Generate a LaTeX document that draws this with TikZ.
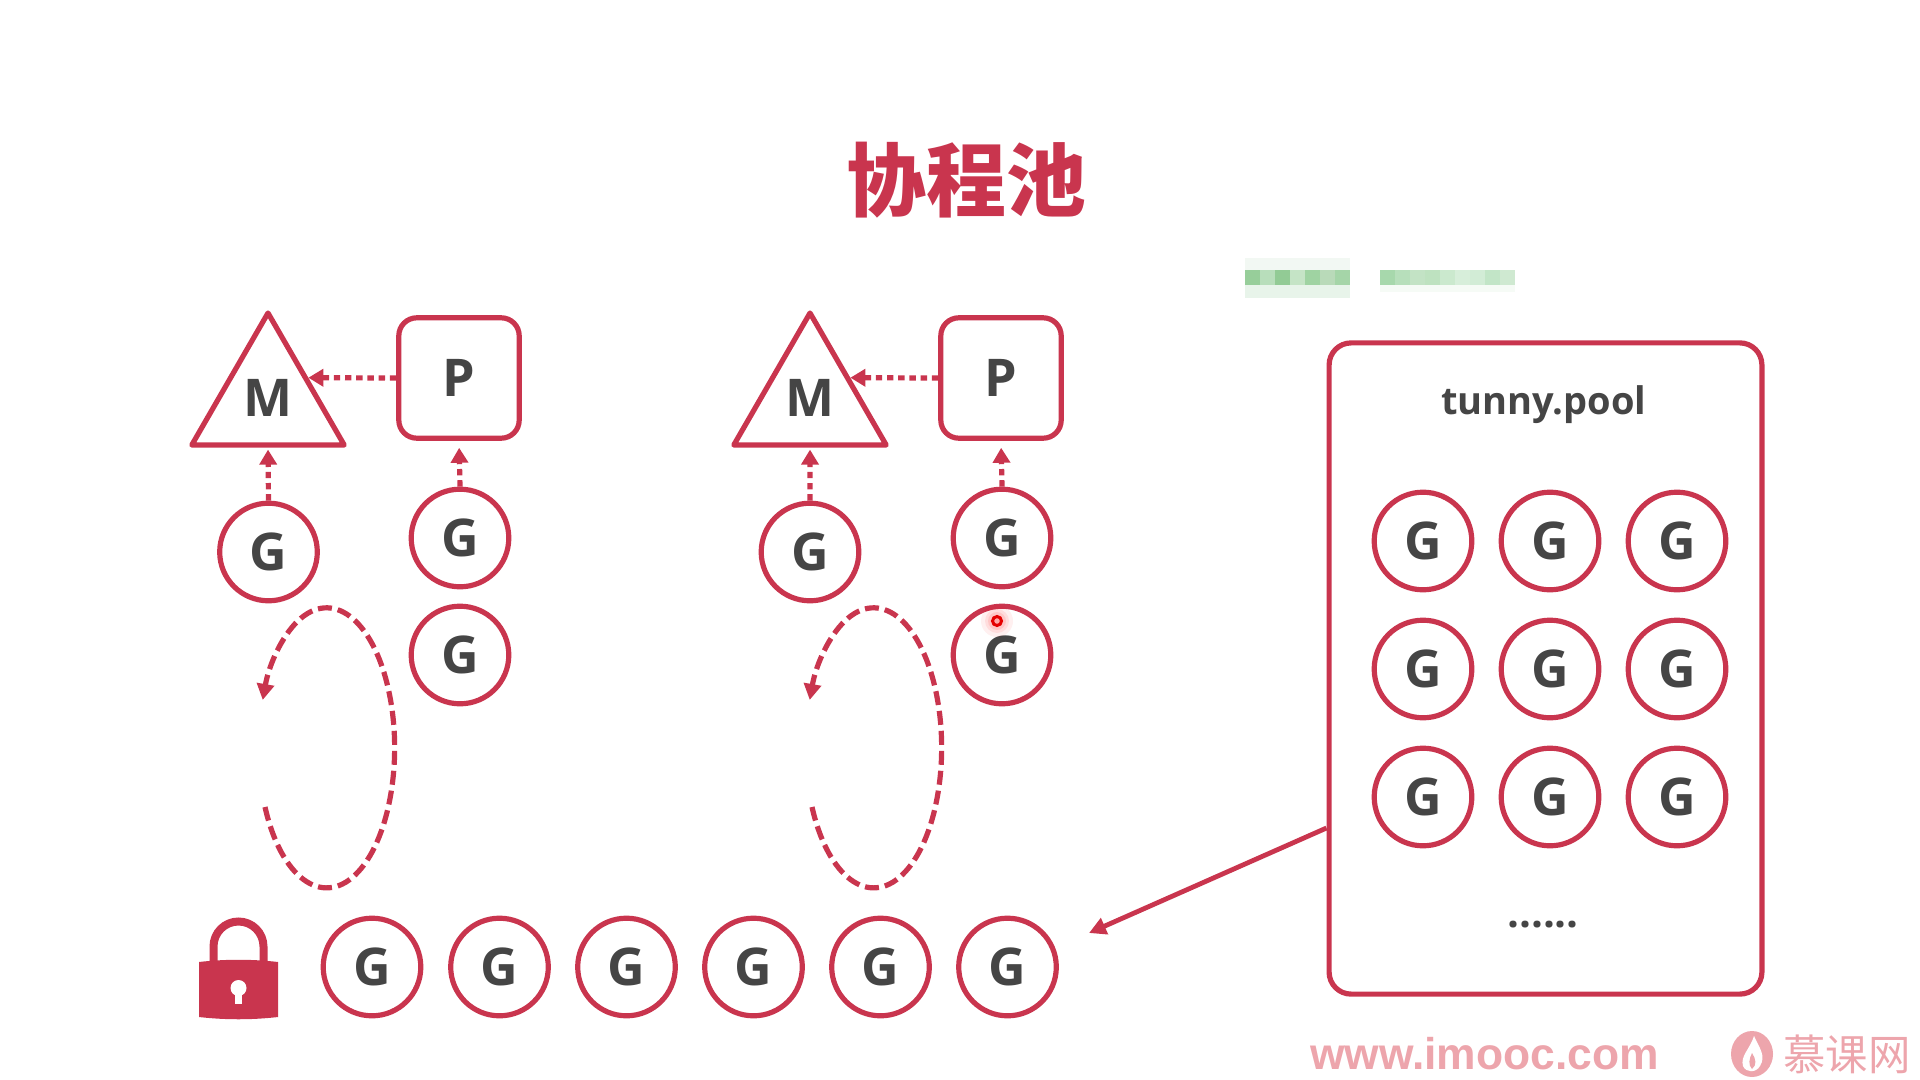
\documentclass[tikz,border=0pt]{standalone}
\usepackage{fontspec}
\setmainfont{Open Sans}
\newfontfamily\cjkfont{Noto Sans CJK SC}
\newfontfamily\siteFont{Liberation Sans}
\usepackage{xcolor}
\usepackage{tikz}
\usetikzlibrary{
  arrows.meta,
  positioning,
  shapes.geometric
}
\definecolor{accentred}{HTML}{C9354E}
\definecolor{textgray}{HTML}{454545}
\definecolor{sitepink}{HTML}{EDA5AC}
\definecolor{blurtop}{HTML}{F2F8F3}
\definecolor{blurlow}{HTML}{E8F4EA}
\definecolor{blurfade}{HTML}{F6FBF6}

\begin{document}
\begin{tikzpicture}[
  x=0.5pt, y=-0.5pt,
  gB/.style={
    draw=accentred, circle, line width=2.6pt, minimum size=48.8pt, inner sep=0pt,
    font=\fontsize{26}{26}\selectfont\bfseries, text=textgray,
  },
  pB/.style={
    draw=accentred, rounded corners=9pt, line width=2.6pt, minimum size=60.2pt, inner sep=0pt,
    font=\fontsize{26}{26}\selectfont\bfseries, text=textgray,
  },
  mB/.style={
    draw=accentred, regular polygon, regular polygon sides=3, line width=2.6pt, line join=round,
    minimum size=88pt, inner sep=0pt, text depth=3pt,
    font=\fontsize{26}{26}\selectfont\bfseries, text=textgray,
  },
  dotArrow/.style={
    draw=accentred, line width=2.6pt, dash pattern=on 3.2pt off 2.4pt,
    -{Triangle[length=7.5pt,width=8.5pt]},
  },
  loopArrow/.style={
    draw=accentred, line width=2.6pt, dash pattern=on 7pt off 3pt,
    -{Triangle[length=8pt,width=8.5pt]},
  },
  blurB/.style={inner sep=0pt, outer sep=0pt},
]
\useasboundingbox (0,0) rectangle (1920,1080);

% Title
\node[font=\fontsize{40}{40}\selectfont\cjkfont\bfseries, text=accentred] (title) at (966,180) {协程池};

% Blurred note
\fill[blurB, fill=blurtop] (1245,258) rectangle (1350,270);
\fill[blurB, fill=blurlow] (1245,285) rectangle (1350,298);
\fill[blurB, fill=blurfade] (1380,285) rectangle (1515,292);
\fill[blurB, fill={rgb,255:red,151;green,206;blue,154}] (1245,270) rectangle (1260,285);
\fill[blurB, fill={rgb,255:red,184;green,222;blue,187}] (1260,270) rectangle (1275,285);
\fill[blurB, fill={rgb,255:red,146;green,203;blue,149}] (1275,270) rectangle (1290,285);
\fill[blurB, fill={rgb,255:red,197;green,228;blue,198}] (1290,270) rectangle (1305,285);
\fill[blurB, fill={rgb,255:red,159;green,211;blue,162}] (1305,270) rectangle (1320,285);
\fill[blurB, fill={rgb,255:red,185;green,218;blue,185}] (1320,270) rectangle (1335,285);
\fill[blurB, fill={rgb,255:red,165;green,213;blue,168}] (1335,270) rectangle (1350,285);
\fill[blurB, fill={rgb,255:red,167;green,216;blue,172}] (1380,270) rectangle (1395,285);
\fill[blurB, fill={rgb,255:red,183;green,223;blue,187}] (1395,270) rectangle (1410,285);
\fill[blurB, fill={rgb,255:red,195;green,227;blue,197}] (1410,270) rectangle (1425,285);
\fill[blurB, fill={rgb,255:red,190;green,226;blue,192}] (1425,270) rectangle (1440,285);
\fill[blurB, fill={rgb,255:red,203;green,233;blue,206}] (1440,270) rectangle (1455,285);
\fill[blurB, fill={rgb,255:red,215;green,238;blue,218}] (1455,270) rectangle (1470,285);
\fill[blurB, fill={rgb,255:red,210;green,236;blue,214}] (1470,270) rectangle (1485,285);
\fill[blurB, fill={rgb,255:red,194;green,229;blue,199}] (1485,270) rectangle (1500,285);
\fill[blurB, fill={rgb,255:red,207;green,233;blue,209}] (1500,270) rectangle (1515,285);

% Left group
\node[mB] (m1) at (268,401) {M};
\node[pB] (p1) at (459,378) {P};
\node[gB] (g1) at (268.5,552) {G};
\node[gB] (g2) at (460,538) {G};
\node[gB] (g3) at (460,655) {G};
\draw[dotArrow] (p1.west) -- (m1.30);
\draw[dotArrow, shorten >=1pt] (g1.north) -- (m1.south);
\draw[dotArrow, shorten >=3.5pt] (g2.north) -- (p1.south);
\coordinate (loop1) at (265,807);
\draw[loopArrow] (loop1) arc[start angle=155, end angle=-160, x radius=68, y radius=140];

% Right group
\node[mB] (m2) at (810,401) {M};
\node[pB] (p2) at (1001,378) {P};
\node[gB] (g4) at (810,552) {G};
\node[gB] (g5) at (1002,538) {G};
\node[gB] (g6) at (1002,655) {G};
\draw[dotArrow] (p2.west) -- (m2.30);
\draw[dotArrow, shorten >=1pt] (g4.north) -- (m2.south);
\draw[dotArrow, shorten >=3.5pt] (g5.north) -- (p2.south);
\coordinate (loop2) at (812,807);
\draw[loopArrow] (loop2) arc[start angle=155, end angle=-160, x radius=68, y radius=140];

% Pointer dot
\fill[red, opacity=0.06] (997,621) circle (16);
\fill[red, opacity=0.08] (997,621) circle (12);
\fill[red, opacity=0.10] (997,621) circle (9);
\draw[red!90!black, fill=red!35, line width=1.5pt] (997,621) circle (4.5);

% Lock
\draw[accentred, line width=4pt] (213.5,965) -- (213.5,946.5) arc[start angle=180, end angle=360, radius=25] -- (263.5,965);
\fill[accentred] (199,962) .. controls (225,959) and (252,959) .. (278,962) -- (278,1017) .. controls (252,1020) and (225,1020) .. (199,1017) -- cycle;
\fill[white] (238.5,988) circle (8);
\fill[white] (235,988) rectangle (242,1004);

% Global queue
\node[gB] (q1) at (372,967) {G};
\node[gB] (q2) at (499.5,967) {G};
\node[gB] (q3) at (626.5,967) {G};
\node[gB] (q4) at (753.5,967) {G};
\node[gB] (q5) at (880.5,967) {G};
\node[gB] (q6) at (1007.5,967) {G};

% Pool
\node[draw=accentred, rounded corners=11pt, line width=2.6pt, minimum width=216.4pt, minimum height=325.6pt] (poolbox) at (1545.5,668.5) {};
\node[font=\fontsize{19}{20}\selectfont\bfseries, text=textgray] (pooltitle) at (1544,405) {tunny.pool};
\node[gB] (t1) at (1423,541) {G};
\node[gB] (t2) at (1550,541) {G};
\node[gB] (t3) at (1677,541) {G};
\node[gB] (t4) at (1423,669) {G};
\node[gB] (t5) at (1550,669) {G};
\node[gB] (t6) at (1677,669) {G};
\node[gB] (t7) at (1423,797) {G};
\node[gB] (t8) at (1550,797) {G};
\node[gB] (t9) at (1677,797) {G};
\node[font=\fontsize{21}{21}\selectfont\bfseries, text=textgray] (pooldots) at (1543,925) {......};
\coordinate (poolout) at (poolbox.west |- 0,828);
\coordinate (queueend) at (1089,933);
\draw[accentred, line width=2.4pt, -{Triangle[length=8.5pt,width=8.5pt]}] (poolout) -- (queueend);

% Site mark
\node[font=\fontsize{22.2}{22}\selectfont\siteFont\bfseries, text=sitepink] (site) at (1484.5,1054) {www.imooc.com};
\fill[sitepink] (1752,1054) ellipse (21 and 23);
\fill[white] (1754,1036) .. controls (1760,1049) and (1766,1056) .. (1760,1066) .. controls (1756,1073) and (1746,1073) .. (1743,1066) .. controls (1740,1056) and (1750,1049) .. (1754,1036) -- cycle;
\fill[sitepink] (1752,1053) .. controls (1756,1059) and (1757,1065) .. (1752,1069) .. controls (1748,1065) and (1749,1059) .. (1752,1053) -- cycle;
\node[font=\fontsize{21.2}{22}\selectfont\cjkfont, text=sitepink, anchor=west, inner sep=0pt] (sitename) at (1783,1054) {慕课网};
\end{tikzpicture}
\end{document}
